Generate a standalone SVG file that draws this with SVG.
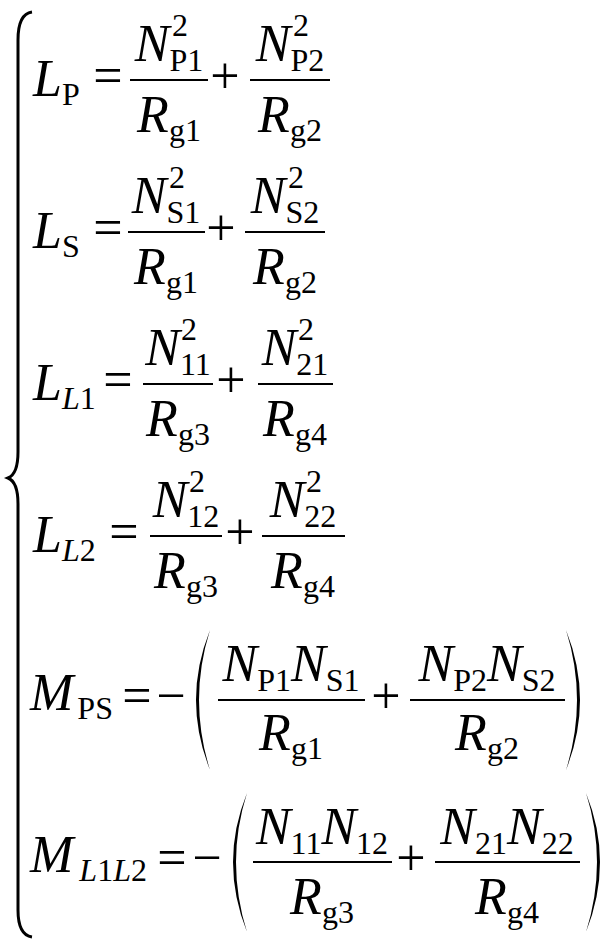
<svg xmlns="http://www.w3.org/2000/svg" width="614" height="949" viewBox="0 0 614 949" font-family="'Liberation Serif', 'Times New Roman', 'DejaVu Serif', serif">
<style>
text{font-family:"Liberation Serif","Times New Roman","DejaVu Serif",serif;font-size:52px;fill:#000}
.i{font-style:italic}
.s{font-size:32px}
.m{text-anchor:middle}
.bar{stroke:#000;stroke-width:2}
.br{fill:none;stroke:#000;stroke-width:3}
.p{fill:#000}
</style>
<rect width="614" height="949" fill="#fff"/>
<g id="brace"><path class="br" d="M32,12 Q18,14 18,40 L18,452 Q18,474 8,478 Q18,482 18,504 L18,910 Q18,935 32,937"/></g>

<g id="row1">
<text x="33" y="96"><tspan class="i">L</tspan><tspan class="s" dy="9">P</tspan></text>
<text class="m" x="108" y="93">=</text>
<text class="m" x="169" y="61"><tspan class="i">N</tspan><tspan class="s" dy="10">P1</tspan></text>
<text class="s" x="172" y="36">2</text>
<line class="bar" x1="130" y1="80" x2="208" y2="80"/>
<text class="m" x="169" y="132"><tspan class="i">R</tspan><tspan class="s" dy="9">g1</tspan></text>
<text class="m" x="225" y="93">+</text>
<text class="m" x="290" y="61"><tspan class="i">N</tspan><tspan class="s" dy="10">P2</tspan></text>
<text class="s" x="293" y="36">2</text>
<line class="bar" x1="250" y1="80" x2="330" y2="80"/>
<text class="m" x="290" y="132"><tspan class="i">R</tspan><tspan class="s" dy="9">g2</tspan></text>
</g>

<g id="row2">
<text x="33" y="248"><tspan class="i">L</tspan><tspan class="s" dy="9">S</tspan></text>
<text class="m" x="108" y="245">=</text>
<text class="m" x="166" y="213"><tspan class="i">N</tspan><tspan class="s" dy="10">S1</tspan></text>
<text class="s" x="169" y="188">2</text>
<line class="bar" x1="128" y1="232" x2="205" y2="232"/>
<text class="m" x="166" y="284"><tspan class="i">R</tspan><tspan class="s" dy="9">g1</tspan></text>
<text class="m" x="221" y="245">+</text>
<text class="m" x="285" y="213"><tspan class="i">N</tspan><tspan class="s" dy="10">S2</tspan></text>
<text class="s" x="288" y="188">2</text>
<line class="bar" x1="245" y1="232" x2="325" y2="232"/>
<text class="m" x="285" y="284"><tspan class="i">R</tspan><tspan class="s" dy="9">g2</tspan></text>
</g>

<g id="row3">
<text x="33" y="400"><tspan class="i">L</tspan><tspan class="s i" dy="9">L</tspan><tspan class="s">1</tspan></text>
<text class="m" x="118" y="397">=</text>
<text class="m" x="178" y="365"><tspan class="i">N</tspan><tspan class="s" dy="10">11</tspan></text>
<text class="s" x="181" y="340">2</text>
<line class="bar" x1="143" y1="384" x2="213" y2="384"/>
<text class="m" x="178" y="436"><tspan class="i">R</tspan><tspan class="s" dy="9">g3</tspan></text>
<text class="m" x="231" y="397">+</text>
<text class="m" x="295" y="365"><tspan class="i">N</tspan><tspan class="s" dy="10">21</tspan></text>
<text class="s" x="298" y="340">2</text>
<line class="bar" x1="258" y1="384" x2="333" y2="384"/>
<text class="m" x="295" y="436"><tspan class="i">R</tspan><tspan class="s" dy="9">g4</tspan></text>
</g>

<g id="row4">
<text x="33" y="552"><tspan class="i">L</tspan><tspan class="s i" dy="9">L</tspan><tspan class="s">2</tspan></text>
<text class="m" x="124" y="549">=</text>
<text class="m" x="186" y="517"><tspan class="i">N</tspan><tspan class="s" dy="10">12</tspan></text>
<text class="s" x="189" y="492">2</text>
<line class="bar" x1="150" y1="536" x2="222" y2="536"/>
<text class="m" x="186" y="588"><tspan class="i">R</tspan><tspan class="s" dy="9">g3</tspan></text>
<text class="m" x="240" y="549">+</text>
<text class="m" x="303" y="517"><tspan class="i">N</tspan><tspan class="s" dy="10">22</tspan></text>
<text class="s" x="306" y="492">2</text>
<line class="bar" x1="262" y1="536" x2="345" y2="536"/>
<text class="m" x="303" y="588"><tspan class="i">R</tspan><tspan class="s" dy="9">g4</tspan></text>
</g>

<g id="row5">
<text x="30" y="710"><tspan class="i">M</tspan><tspan class="s" dx="4" dy="9">PS</tspan></text>
<text class="m" x="137" y="713">=</text>
<text class="m" x="171" y="713">−</text>
<path class="p" d="M210,630 Q182,700 210,770 Q188,700 210,630 Z"/>
<text class="m" x="291" y="681"><tspan class="i">N</tspan><tspan class="s" dy="10">P1</tspan><tspan class="i" dy="-10">N</tspan><tspan class="s" dy="10">S1</tspan></text>
<line class="bar" x1="218" y1="700" x2="365" y2="700"/>
<text class="m" x="291" y="750"><tspan class="i">R</tspan><tspan class="s" dy="9">g1</tspan></text>
<text class="m" x="386" y="713">+</text>
<text class="m" x="487" y="681"><tspan class="i">N</tspan><tspan class="s" dy="10">P2</tspan><tspan class="i" dy="-10">N</tspan><tspan class="s" dy="10">S2</tspan></text>
<line class="bar" x1="410" y1="700" x2="565" y2="700"/>
<text class="m" x="487" y="750"><tspan class="i">R</tspan><tspan class="s" dy="9">g2</tspan></text>
<path class="p" d="M566,630 Q594,700 566,770 Q588,700 566,630 Z"/>
</g>

<g id="row6">
<text x="30" y="872"><tspan class="i">M</tspan><tspan class="s i" dx="6" dy="9">L</tspan><tspan class="s">1</tspan><tspan class="s i">L</tspan><tspan class="s">2</tspan></text>
<text class="m" x="172" y="875">=</text>
<text class="m" x="207" y="875">−</text>
<path class="p" d="M247,793 Q219,862 247,932 Q225,862 247,793 Z"/>
<text class="m" x="322" y="844"><tspan class="i">N</tspan><tspan class="s" dy="10">11</tspan><tspan class="i" dy="-10">N</tspan><tspan class="s" dy="10">12</tspan></text>
<line class="bar" x1="253" y1="862" x2="392" y2="862"/>
<text class="m" x="322" y="914"><tspan class="i">R</tspan><tspan class="s" dy="9">g3</tspan></text>
<text class="m" x="411" y="875">+</text>
<text class="m" x="507" y="844"><tspan class="i">N</tspan><tspan class="s" dy="10">21</tspan><tspan class="i" dy="-10">N</tspan><tspan class="s" dy="10">22</tspan></text>
<line class="bar" x1="435" y1="862" x2="580" y2="862"/>
<text class="m" x="507" y="914"><tspan class="i">R</tspan><tspan class="s" dy="9">g4</tspan></text>
<path class="p" d="M586,793 Q614,862 586,932 Q608,862 586,793 Z"/>
</g>
</svg>
